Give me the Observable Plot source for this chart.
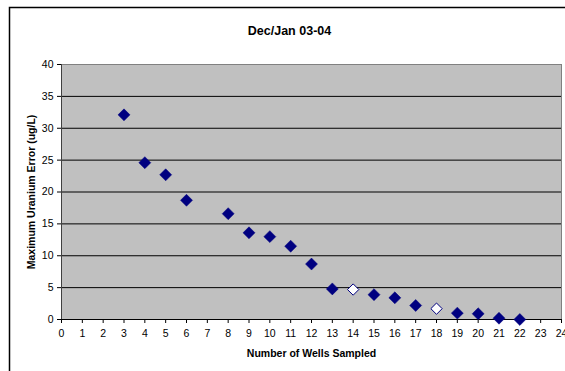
<!DOCTYPE html>
<html>
<head>
<meta charset="utf-8">
<script src="https://cdn.jsdelivr.net/npm/d3@7"></script>
<script src="https://cdn.jsdelivr.net/npm/@observablehq/plot@0.6"></script>
<style>
  html, body { margin: 0; padding: 0; background: #fff; }
  #chart svg { display: block; font-family: "Liberation Sans", Arial, sans-serif; }
</style>
</head>
<body>
<div id="chart"></div>
<script>
// Number of wells sampled vs. maximum uranium error
const wells = [3, 4, 5, 6, 8, 9, 10, 11, 12, 13, 14, 15, 16, 17, 18, 19, 20, 21, 22];
const maxError = [32.1, 24.6, 22.7, 18.7, 16.6, 13.6, 13.0, 11.5, 8.7, 4.8, 4.7, 3.9, 3.4, 2.2, 1.7, 1.0, 0.9, 0.2, 0.0];
// wells drawn as open diamonds
const openWells = [14, 18];

const xTicks = d3.range(0, 25, 1);
const yTicks = d3.range(0, 41, 5);
const gridTicks = d3.range(5, 40, 5);

const title = "Dec/Jan 03-04";
const xTitle = "Number of Wells Sampled";
const yTitle = "Maximum Uranium Error (ug/L)";

const rows = wells.map((w, i) => ({wells: w, error: maxError[i], open: openWells.includes(w)}));

const navy = "#000080";

const chart = Plot.plot({
  width: 565,
  height: 371,
  marginLeft: 61,
  marginRight: 4,
  marginTop: 64,
  marginBottom: 52,
  style: {fontFamily: "'Liberation Sans', Arial, sans-serif", fontSize: "10px", background: "#fff"},
  x: {domain: [0, 24]},
  y: {domain: [0, 40]},
  marks: [
    Plot.frame({fill: "#c0c0c0", stroke: "#808080"}),
    Plot.gridY(gridTicks, {stroke: "#000", strokeOpacity: 1}),
    Plot.ruleX([0], {stroke: "#404040"}),
    Plot.ruleY([0], {stroke: "#000"}),
    Plot.axisY(yTicks, {tickSize: 4, tickPadding: 4, label: null, fill: "#000", stroke: "#000", fontSize: 10.5}),
    Plot.axisX(xTicks, {tickSize: 4, tickPadding: 6, label: null, fill: "#000", stroke: "#000", fontSize: 10.5}),
    Plot.dot(rows.filter(d => !d.open), {x: "wells", y: "error", symbol: "diamond2", r: 5.4, fill: navy, stroke: navy, strokeWidth: 0.5}),
    Plot.dot(rows.filter(d => d.open), {x: "wells", y: "error", symbol: "diamond2", r: 5.1, fill: "#fff", stroke: navy, strokeWidth: 1}),
    Plot.text([title], {text: d => d, frameAnchor: "top", dx: -22, dy: -38, fontSize: 12.5, fontWeight: "bold", fill: "#000"}),
    Plot.text([xTitle], {text: d => d, frameAnchor: "bottom", dy: 37, fontSize: 10.5, fontWeight: "bold", fill: "#000"}),
    Plot.text([yTitle], {text: d => d, frameAnchor: "left", textAnchor: "middle", dx: -30, rotate: -90, fontSize: 10.5, fontWeight: "bold", fill: "#000"})
  ]
});

// outer chart border
d3.select(chart).insert("rect", ":first-child")
  .attr("x", 9.5).attr("y", 7.5).attr("width", 600).attr("height", 400)
  .attr("fill", "none").attr("stroke", "#000").attr("stroke-width", 1.5);

document.getElementById("chart").append(chart);
</script>
</body>
</html>
